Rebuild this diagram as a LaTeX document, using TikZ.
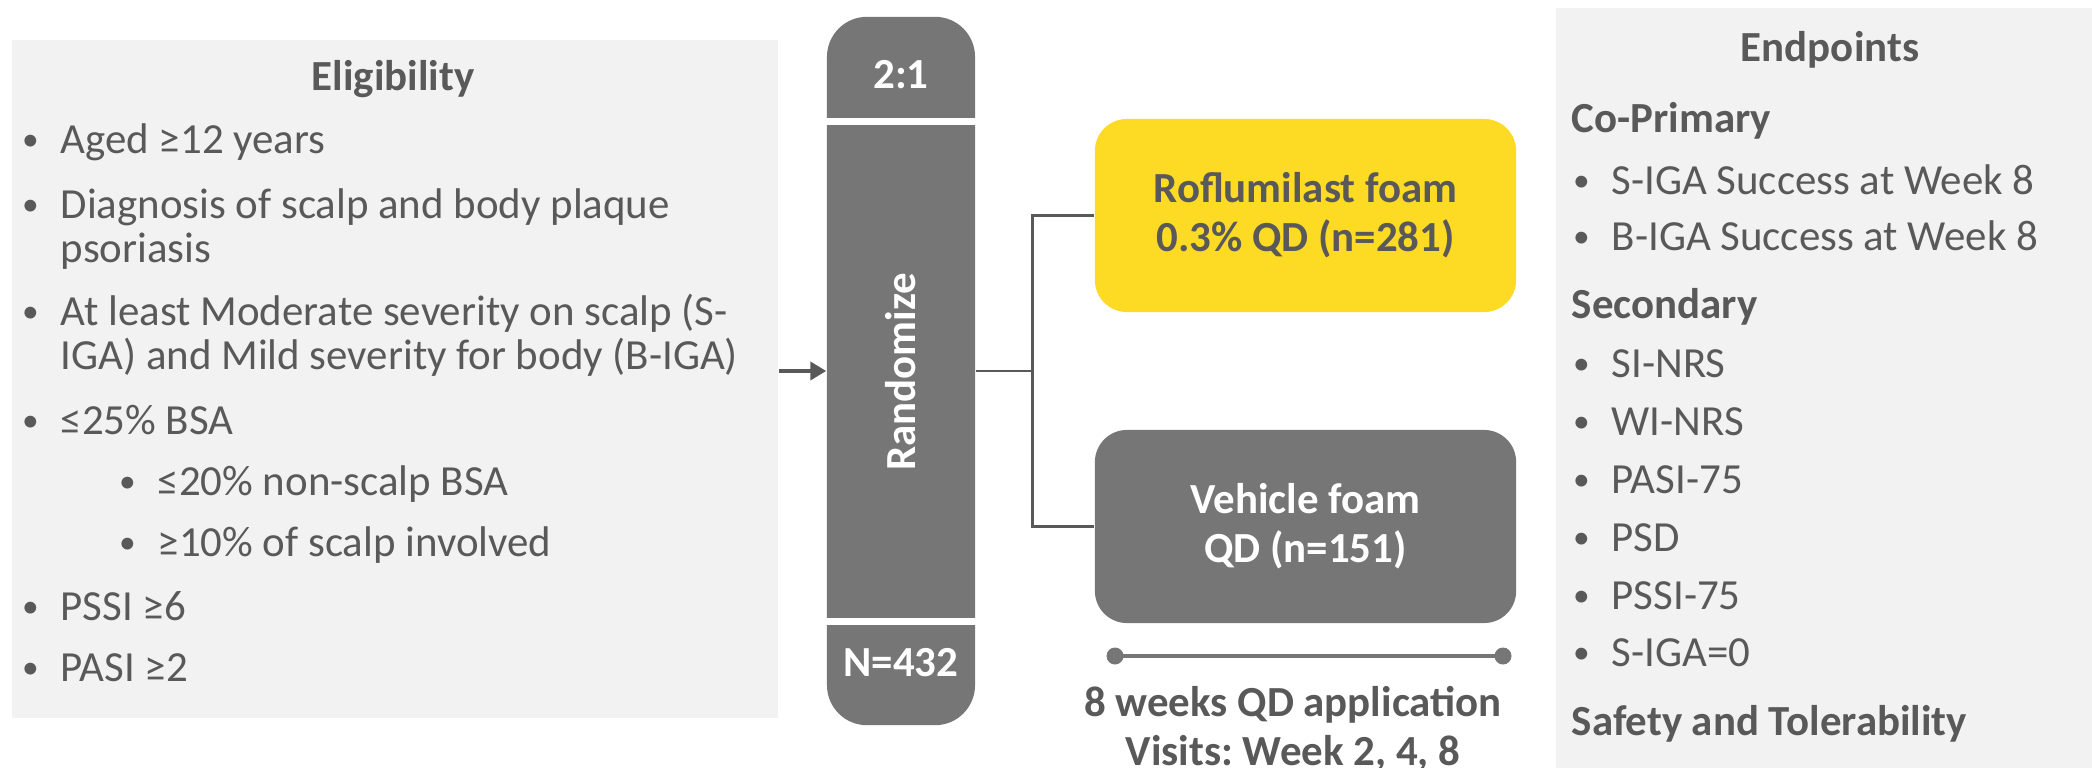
\documentclass[tikz,border=0pt]{standalone}
\usepackage{fontspec}
\setmainfont{Carlito}
\usetikzlibrary{arrows.meta}
\definecolor{textgray}{RGB}{89, 89, 89}
\definecolor{boxgray}{RGB}{118, 118, 118}
\definecolor{panelgray}{RGB}{242, 242, 242}
\definecolor{armyellow}{RGB}{253, 218, 36}
\newcommand{\bul}{\llap{{\fontsize{9.5}{9.5}\selectfont\raisebox{0.6pt}{\textbullet}}\hspace{0.22cm}}}
\frenchspacing

\begin{document}
\begin{tikzpicture}[x=0.01cm, y=-0.01cm,
  panel/.style={fill=panelgray, inner sep=0pt, anchor=north west},
  head/.style={font=\fontsize{12.2}{12.5}\selectfont\bfseries, text=textgray, inner sep=0pt, anchor=base},
  subhead/.style={head, anchor=base west},
  item/.style={font=\fontsize{12.2}{12.5}\selectfont, text=textgray, inner sep=0pt, anchor=base west, align=left},
  randtext/.style={font=\fontsize{12.2}{12.5}\selectfont\bfseries, text=white, inner sep=0pt},
  arm/.style={rounded corners=0.32cm, minimum width=4.21cm, minimum height=1.93cm, align=center, inner sep=0pt, font=\fontsize{12.2}{13.9}\selectfont\bfseries},
  branch/.style={draw=textgray, line width=0.75pt},
  enter/.style={draw=textgray, line width=1.2pt, -{Triangle[length=0.16cm, width=0.18cm]}},
  gap/.style={draw=white, line width=2pt}
]
  \useasboundingbox (0,0) rectangle (2092,767);

  % Eligibility panel
  \node[panel, minimum width=7.66cm, minimum height=6.78cm] (elig) at (11,39) {};
  \node[head] (eligtitle) at (393,91) {Eligibility};
  \node[item] (aged) at (60,153) {\bul Aged ≥12 years};
  \node[item] (diag) at (60,262) {\bul Diagnosis of scalp and body plaque\\psoriasis};
  \node[item] (sev) at (60,369) {\bul At least Moderate severity on scalp (S-\\IGA) and Mild severity for body (B-IGA)};
  \node[item] (bsa) at (60,434) {\bul ≤25\% BSA};
  \node[item] (nonscalp) at (157,495) {\bul ≤20\% non-scalp BSA};
  \node[item] (scalpinv) at (157,556) {\bul ≥10\% of scalp involved};
  \node[item] (pssi) at (60,620) {\bul PSSI ≥6};
  \node[item] (pasi) at (60,681) {\bul PASI ≥2};

  % Randomization column
  \node[fill=boxgray, rounded corners=0.4cm, minimum width=1.48cm, minimum height=7.08cm, inner sep=0pt] (col) at (901,371) {};
  \draw[gap] ([yshift=-1.05cm]col.north west) -- ([yshift=-1.05cm]col.north east);
  \draw[gap] ([yshift=1.04cm]col.south west) -- ([yshift=1.04cm]col.south east);
  \node[randtext, anchor=base] (ratio) at (901,89) {2:1};
  \node[randtext, rotate=90] (rand) at (901,372) {Randomize};
  \node[randtext, anchor=base] (total) at (901,676) {N=432};

  % Treatment arms
  \node[arm, fill=armyellow, text=textgray] (rofl) at (1305.5,215.5) {Roflumilast foam\\0.3\% QD (n=281)};
  \node[arm, fill=boxgray, text=white] (veh) at (1305.5,526.5) {Vehicle foam\\QD (n=151)};

  \draw[enter] (elig.east |- col.west) -- (col.west);
  \draw[branch] (col.east) -- ++(57,0) |- (rofl.west);
  \draw[branch] (col.east) -- ++(57,0) |- (veh.west);

  % Treatment period
  \coordinate (start) at (1115,656);
  \coordinate (stop) at (1503,656);
  \draw[boxgray, line width=1.1pt] (start) -- (stop);
  \fill[boxgray] (start) circle[radius=0.085cm] (stop) circle[radius=0.085cm];
  \node[head] (dur) at (1293,716) {8 weeks QD application};
  \node[head] (visits) at (1293,765) {Visits: Week 2, 4, 8};

  % Endpoints panel
  \node[panel, minimum width=5.37cm, minimum height=7.7cm] (ends) at (1555,7) {};
  \node[head] (endtitle) at (1830,62) {Endpoints};
  \node[subhead] (coprim) at (1571,133) {Co-Primary};
  \node[item] (siga) at (1611,194) {\bul S-IGA Success at Week 8};
  \node[item] (biga) at (1611,250) {\bul B-IGA Success at Week 8};
  \node[subhead] (second) at (1571,318) {Secondary};
  \node[item] (sinrs) at (1611,377) {\bul SI-NRS};
  \node[item] (winrs) at (1611,435) {\bul WI-NRS};
  \node[item] (pasi75) at (1611,493) {\bul PASI-75};
  \node[item] (psd) at (1611,551) {\bul PSD};
  \node[item] (pssi75) at (1611,609) {\bul PSSI-75};
  \node[item] (siga0) at (1611,666) {\bul S-IGA=0};
  \node[subhead] (safety) at (1571,735) {Safety and Tolerability};
\end{tikzpicture}
\end{document}
